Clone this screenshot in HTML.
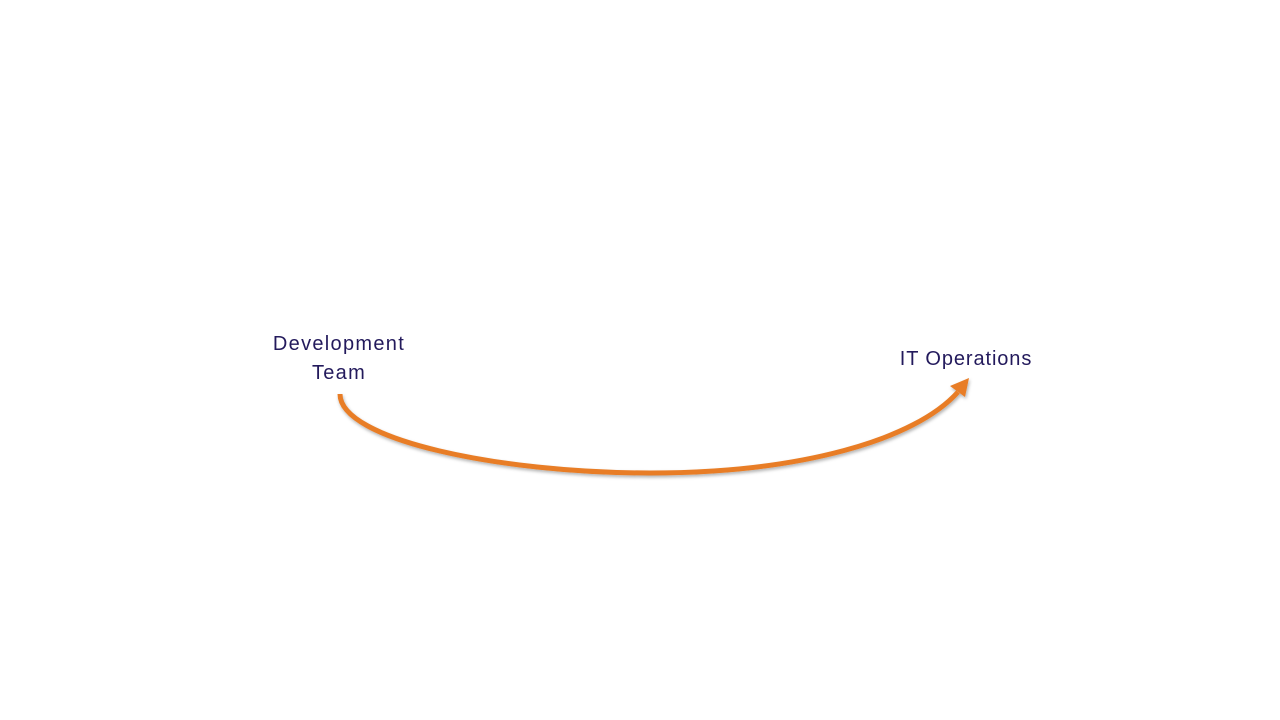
<!DOCTYPE html>
<html><head><meta charset="utf-8"><style>
html,body{margin:0;padding:0;background:#fff;width:1280px;height:720px;overflow:hidden}
.t{position:absolute;font-family:"Liberation Sans",sans-serif;font-size:20px;color:#231a5c;text-align:center;line-height:29px}
</style></head><body>
<svg width="1280" height="720" style="position:absolute;left:0;top:0">
<defs><filter id="s" x="-10%" y="-10%" width="120%" height="140%"><feDropShadow dx="1" dy="2" stdDeviation="1.5" flood-color="#000" flood-opacity="0.3"/></filter></defs>
<g filter="url(#s)">
<path d="M340,394 C340,440 500,473 650,473 C800,473 915,440 958,392" fill="none" stroke="#e87d25" stroke-width="5"/>
<polygon points="969,378 965,397 950,386" fill="#e87d25"/>
</g>
</svg>
<div class="t" style="left:259px;top:330px;width:160px;letter-spacing:1.3px">Development<br>Team</div>
<div class="t" style="left:886px;top:345px;width:160px;letter-spacing:0.9px">IT Operations</div>
</body></html>
